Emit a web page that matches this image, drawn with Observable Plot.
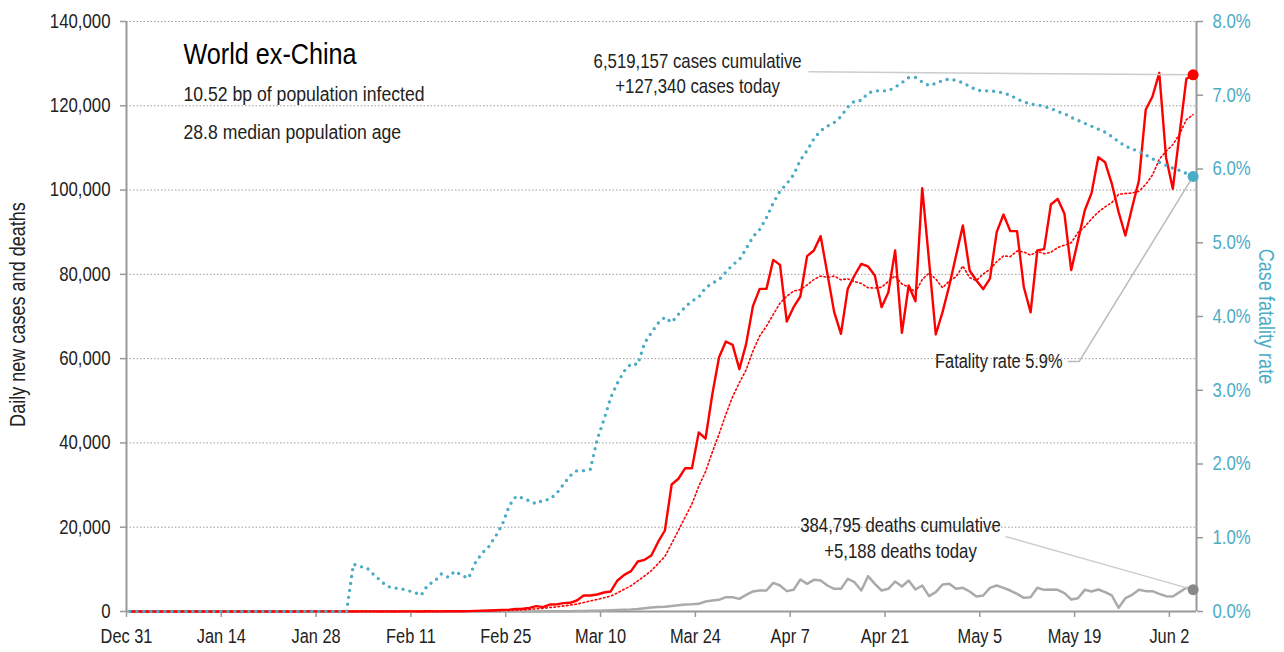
<!DOCTYPE html>
<html>
<head>
<meta charset="utf-8">
<script src="https://cdn.jsdelivr.net/npm/d3@7"></script>
<script src="https://cdn.jsdelivr.net/npm/@observablehq/plot@0.6"></script>
<style>
  html, body { margin: 0; padding: 0; background: #fff; }
  #chart svg { display: block; }
</style>
</head>
<body>
<div id="chart"></div>
<script>
// ---------- DATA (daily, 2019-12-31 .. 2020-06-05) ----------
const startDate = "2019-12-31";

const caseValues = [
  0,0,0,0,0,0,0,0,0,0,
  0,0,0,0,0,0,0,0,0,0,
  3,5,4,10,15,12,20,22,25,30,
  25,20,30,15,20,25,20,15,30,10,
  20,25,40,15,50,25,30,90,60,70,
  100,150,200,250,300,380,450,600,650,870,
  1270,1050,1660,1680,1980,2060,2610,3800,3800,4030,
  4510,4750,7360,8700,9570,11860,12260,13290,16500,19220,
  30130,31500,34000,34000,42500,41000,51500,60350,64070,63280,
  57500,63510,72450,76560,76560,83440,82250,68810,72220,74750,
  84320,85660,89070,80120,71030,65890,76560,79730,82490,81870,
  79730,72220,75770,85660,66130,77360,73640,100450,83300,65730,
  71030,77360,84480,91590,80920,78540,76500,79000,90010,94200,
  90250,90250,77000,71000,85700,86000,96580,97920,94360,81000,
  88000,95150,99270,107810,106620,101480,94760,89220,95940,102270,
  119040,122200,127820,107810,100290,113340,126390,127340
];

const deathValues = [
  0,0,0,0,0,0,0,0,0,0,
  0,0,0,0,0,0,0,0,0,0,
  0,0,0,0,0,0,0,0,0,0,
  0,0,0,1,0,0,0,0,0,0,
  0,0,0,1,0,1,0,0,0,0,
  1,3,2,4,6,8,10,12,15,20,
  25,30,40,45,60,70,90,110,150,200,
  240,300,350,420,500,620,790,950,1050,1110,
  1300,1500,1660,1700,1820,2370,2610,2770,3400,3400,
  3000,3950,4750,4980,4980,6800,6170,4830,5140,7590,
  6560,7510,7360,6170,5380,5380,7750,6960,4980,8380,
  6560,4980,5380,7120,5930,7360,5220,6170,3640,4590,
  6410,6560,5380,5620,4750,3560,3800,5620,6170,5620,
  4980,4190,3240,3400,5620,5140,5220,5140,4350,2850,
  3160,5140,4750,5220,4590,3800,870,3160,3950,5140,
  4830,4830,4190,3640,3560,4590,5620,5188
];

// case fatality rate, percent
const cfrValues = [
  0,0,0,0,0,0,0,0,0,0,
  0,0,0,0,0,0,0,0,0,0,
  0,0,0,0,0,0,0,0,0,0,
  0,0,0,0.64,0.61,0.59,0.50,0.42,0.34,0.32,
  0.31,0.285,0.26,0.22,0.36,0.41,0.51,0.465,0.545,0.49,
  0.45,0.66,0.79,0.88,1.02,1.18,1.43,1.56,1.54,1.50,
  1.46,1.51,1.52,1.60,1.72,1.84,1.91,1.91,1.93,2.33,
  2.60,2.90,3.10,3.26,3.36,3.35,3.64,3.78,3.91,3.99,
  3.92,4.03,4.13,4.21,4.26,4.39,4.45,4.50,4.60,4.70,
  4.77,4.92,5.08,5.18,5.34,5.54,5.70,5.80,5.92,6.12,
  6.25,6.41,6.52,6.58,6.63,6.71,6.84,6.92,6.93,7.03,
  7.06,7.06,7.06,7.11,7.17,7.24,7.24,7.18,7.13,7.16,
  7.20,7.22,7.20,7.17,7.12,7.07,7.06,7.06,7.05,7.03,
  7.00,6.95,6.91,6.88,6.87,6.85,6.82,6.78,6.75,6.70,
  6.66,6.62,6.58,6.54,6.50,6.44,6.37,6.31,6.27,6.24,
  6.19,6.14,6.09,6.05,6.01,5.98,5.94,5.90
];

const xTickDates = ["2019-12-31","2020-01-14","2020-01-28","2020-02-11","2020-02-25","2020-03-10",
                    "2020-03-24","2020-04-07","2020-04-21","2020-05-05","2020-05-19","2020-06-02"];
const yTicks = [0,20000,40000,60000,80000,100000,120000,140000];
const cfrTicks = [0,1,2,3,4,5,6,7,8];

const titleText = "World ex-China";
const subtitleLines = ["10.52 bp of population infected", "28.8 median population age"];
const yLabelLeft = "Daily new cases and deaths";
const yLabelRight = "Case fatality rate";
const casesNote = "6,519,157 cases cumulative\n+127,340 cases today";
const deathsNote = "384,795 deaths cumulative\n+5,188 deaths today";
const fatalityNote = "Fatality rate 5.9%";

// ---------- BUILD ----------
const DAY = 864e5;
const t0 = Date.parse(startDate + "T12:00Z");
const rows = caseValues.map((c, i) => ({
  date: new Date(t0 + i * DAY), cases: c, deaths: deathValues[i], cfr: cfrValues[i]
}));
const last = rows[rows.length - 1];
const CFR_K = 140000 / 8;      // right axis: 8% maps onto 140,000
const FONT = '"Liberation Sans", Arial, sans-serif';
const CONDENSE = 0.84;         // horizontal squeeze to imitate a condensed face
const TEAL = "#4bacc6", RED = "#ff0000", AXIS = "#999", INK = "#222";

const D = s => new Date(s);

const chart = Plot.plot({
  width: 1284, height: 652,
  marginLeft: 126, marginRight: 88, marginTop: 21, marginBottom: 41,
  style: { fontFamily: FONT, fontSize: "20px", color: INK, background: "#fff", overflow: "visible" },
  x: { type: "utc", domain: [D("2019-12-31"), D("2020-06-06")] },
  y: { domain: [0, 140000] },
  marks: [
    Plot.gridY(yTicks.slice(1), { stroke: "#9a9a9a", strokeOpacity: 1, strokeDasharray: "1.5,2" }),
    Plot.axisY(yTicks, { anchor: "left", tickFormat: d3.format(","), tickSize: 6, tickPadding: 10,
                         stroke: AXIS, strokeWidth: 1.5, fill: INK, label: null, fontSize: 20 }),
    Plot.axisY(cfrTicks.map(p => p * CFR_K), { anchor: "right", tickFormat: d => (d / CFR_K).toFixed(1) + "%",
                         tickSize: 6, tickPadding: 10, stroke: AXIS, strokeWidth: 1.5, fill: TEAL, label: null, fontSize: 20 }),
    Plot.axisX(xTickDates.map(D), { tickFormat: d3.utcFormat("%b %-d"), tickSize: 6, tickPadding: 12,
                         stroke: AXIS, strokeWidth: 1.5, fill: INK, label: null, fontSize: 19.5 }),
    Plot.ruleX([D("2019-12-31"), D("2020-06-06")], { stroke: AXIS, strokeWidth: 2 }),
    Plot.ruleY([0], { stroke: AXIS, strokeWidth: 2 }),

    // series
    Plot.line(rows, { x: "date", y: "deaths", stroke: "#aaaaaa", strokeWidth: 2.5 }),
    Plot.line(rows, Plot.windowY({ k: 7, anchor: "end" },
              { x: "date", y: "cases", stroke: RED, strokeWidth: 1.6, strokeDasharray: "1.6,2.6" })),
    Plot.line(rows, { x: "date", y: "cases", stroke: RED, strokeWidth: 2.4 }),
    Plot.line(rows, { x: "date", y: d => d.cfr * CFR_K, stroke: TEAL, strokeWidth: 3.4,
                      strokeDasharray: "0,7", strokeLinecap: "round" }),

    // leader lines
    Plot.link([{ x1: D("2020-04-09T17:00Z"), y1: 128100, x2: last.date, y2: last.cases }],
              { x1: "x1", y1: "y1", x2: "x2", y2: "y2", stroke: "#cccccc", strokeWidth: 1.5 }),
    Plot.link([{ x1: D("2020-05-08T19:00Z"), y1: 17800, x2: last.date, y2: last.deaths }],
              { x1: "x1", y1: "y1", x2: "x2", y2: "y2", stroke: "#cccccc", strokeWidth: 1.5 }),
    Plot.line([
                { x: D("2020-05-18T02:00Z"), y: 59300 },
                { x: D("2020-05-19T16:00Z"), y: 59300 },
                { x: last.date, y: last.cfr * CFR_K }
              ], { x: "x", y: "y", stroke: "#bbbbbb", strokeWidth: 1.5 }),

    // end dots
    Plot.dot([last], { x: "date", y: "cases", r: 5.5, fill: RED }),
    Plot.dot([last], { x: "date", y: d => d.cfr * CFR_K, r: 5.5, fill: TEAL }),
    Plot.dot([last], { x: "date", y: "deaths", r: 5.5, fill: "#888888" }),

    // annotations
    Plot.text([casesNote], { x: D("2020-03-24T08:00Z"), y: 127800, text: d => d, textAnchor: "middle",
                             lineAnchor: "middle", lineHeight: 1.25, fontSize: 20, fill: INK }),
    Plot.text([deathsNote], { x: D("2020-04-23T07:00Z"), y: 17800, text: d => d, textAnchor: "middle",
                             lineAnchor: "middle", lineHeight: 1.3, fontSize: 20, fill: INK }),
    Plot.text([fatalityNote], { x: D("2020-05-17T05:00Z"), y: 59300, text: d => d, textAnchor: "end",
                             lineAnchor: "middle", fontSize: 19.5, fill: INK }),

    // title block
    Plot.text([titleText], { frameAnchor: "top-left", dx: 57, dy: 21, text: d => d, textAnchor: "start",
                             lineAnchor: "top", fontSize: 30, fill: "#000" }),
    Plot.text([subtitleLines[0]], { frameAnchor: "top-left", dx: 57, dy: 65, text: d => d, textAnchor: "start",
                             lineAnchor: "top", fontSize: 21, fill: INK }),
    Plot.text([subtitleLines[1]], { frameAnchor: "top-left", dx: 57, dy: 103, text: d => d, textAnchor: "start",
                             lineAnchor: "top", fontSize: 21, fill: INK }),

    // axis titles
    Plot.text([yLabelLeft], { frameAnchor: "left", dx: -108, dy: -2, rotate: -90, text: d => d,
                             textAnchor: "middle", lineAnchor: "middle", fontSize: 21.5, fill: INK }),
    Plot.text([yLabelRight], { frameAnchor: "right", dx: 69, dy: 0, rotate: 90, text: d => d,
                             textAnchor: "middle", lineAnchor: "middle", fontSize: 21.5, fill: TEAL })
  ]
});

document.getElementById("chart").appendChild(chart);

// squeeze every label horizontally about its own anchor point (condensed look)
chart.querySelectorAll("text").forEach(t => {
  const bb = t.getBBox();
  if (!bb.width) return;
  const anchor = getComputedStyle(t).textAnchor;
  const ax = anchor === "end" ? bb.x + bb.width : anchor === "middle" ? bb.x + bb.width / 2 : bb.x;
  const prev = t.getAttribute("transform") || "";
  t.setAttribute("transform", `${prev} translate(${ax},0) scale(${CONDENSE},1) translate(${-ax},0)`.trim());
});
</script>
</body>
</html>
